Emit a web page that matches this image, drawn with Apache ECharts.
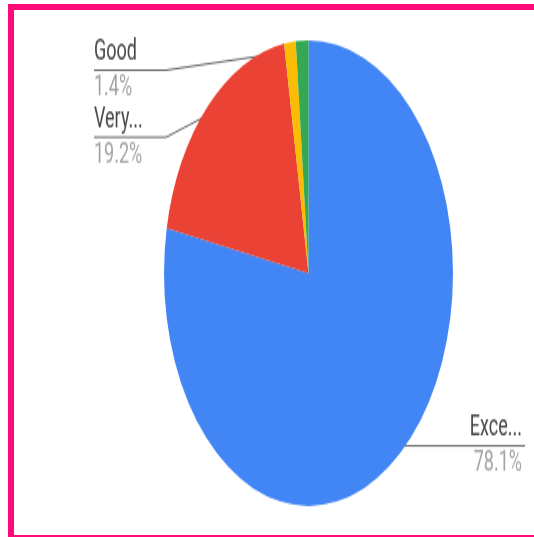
<!DOCTYPE html>
<html>
<head>
<meta charset="utf-8">
<script src="https://cdn.jsdelivr.net/npm/echarts@6/dist/echarts.min.js"></script>
<style>
  html, body { margin: 0; padding: 0; width: 534px; height: 537px; overflow: hidden; background: #fff; }
  #wrap { position: relative; width: 534px; height: 537px; overflow: hidden; }
  #frameTop { position: absolute; left: 8px; top: 4px; width: 526px; height: 6px; background: #ff0a78; }
  #frameLeft { position: absolute; left: 8px; top: 4px; width: 6px; height: 533px; background: #ff0a78; }
  #frameBottom { position: absolute; left: 8px; top: 535px; width: 526px; height: 2px; background: #ff0a78; }
  #chart { position: absolute; left: 0; top: 0; width: 534px; height: 333px; transform: scaleY(1.612); transform-origin: 0 0; }
</style>
</head>
<body>
<div id="wrap">
<div id="frameTop"></div>
<div id="frameLeft"></div>
<div id="frameBottom"></div>
<div id="chart"></div>
</div>
<script>
// ---- data ----
const categories = ['Excellent', 'Very good', 'Fair', 'Good'];
const values = [78.1, 19.2, 1.3, 1.4];
const percentLabels = ['78.1%', '19.2%', '1.3%', '1.4%'];
const labelVisible = [true, true, false, true];
const colors = ['#4285F4', '#EA4335', '#FBBC04', '#34A853'];

// ---- layout ----
const CX = 308.5, CY = 169.4, R = 144.5;
const LEFT_X = 94, RIGHT_X = 525;
const LEFT_LINE = 72, RIGHT_LINE = 85;
const LABEL_STEP = 41.6, TOP_LIMIT = 43.5;

const total = values.reduce((a, b) => a + b, 0);
const anchors = [];
let cum = 0;
values.forEach((v, i) => {
  const mid = ((cum + v / 2) / total) * 2 * Math.PI;
  cum += v;
  const rA = R * 0.96;
  anchors.push({ x: CX + rA * Math.sin(mid), y: CY - rA * Math.cos(mid), left: Math.sin(mid) < 0 });
});
// stack labels per side
const labelY = {};
['left', 'right'].forEach(side => {
  const idx = anchors.map((a, i) => i).filter(i => labelVisible[i] && (anchors[i].left === (side === 'left')));
  idx.sort((a, b) => anchors[a].y - anchors[b].y);
  let prev = -Infinity;
  idx.forEach(i => {
    let y = Math.max(anchors[i].y, TOP_LIMIT, prev + LABEL_STEP);
    labelY[i] = y;
    prev = y;
  });
});

const chart = echarts.init(document.getElementById('chart'), null, { renderer: 'canvas' });
chart.setOption({
  animation: false,
  color: colors,
  series: [{
    type: 'pie',
    center: [CX, CY],
    radius: R,
    startAngle: 90,
    clockwise: true,
    avoidLabelOverlap: false,
    itemStyle: { borderWidth: 0 },
    emphasis: { disabled: true },
    label: {
      show: true,
      position: 'outside',
      fontFamily: 'Roboto, Arial, sans-serif',
      formatter: p => {
        const n = p.name.length > 4 ? p.name.slice(0, 4) + '...' : p.name;
        return '{n|' + n + '}\n{p|' + percentLabels[p.dataIndex] + '}';
      },
      rich: {
        n: { fontSize: 18, lineHeight: 22, color: '#474747', fontFamily: 'Roboto, Arial, sans-serif' },
        p: { fontSize: 18, lineHeight: 22, color: '#a3a3a3', fontFamily: 'Roboto, Arial, sans-serif' }
      }
    },
    labelLine: { show: true, lineStyle: { color: '#616161', width: 1 } },
    labelLayout: function (params) {
      const i = params.dataIndex;
      const a = anchors[i];
      const y = labelY[i];
      if (y === undefined) return {};
      if (a.left) {
        return {
          x: LEFT_X, y: y, align: 'left', verticalAlign: 'middle',
          labelLinePoints: [[a.x, a.y], [LEFT_X + LEFT_LINE, y], [LEFT_X, y]]
        };
      }
      return {
        x: RIGHT_X - 3, y: y, align: 'right', verticalAlign: 'middle',
        labelLinePoints: [[a.x, a.y], [RIGHT_X - RIGHT_LINE, y], [RIGHT_X, y]]
      };
    },
    data: categories.map((c, i) => ({
      name: c,
      value: values[i],
      label: { show: labelVisible[i] },
      labelLine: { show: labelVisible[i] }
    }))
  }]
});
</script>
</body>
</html>
